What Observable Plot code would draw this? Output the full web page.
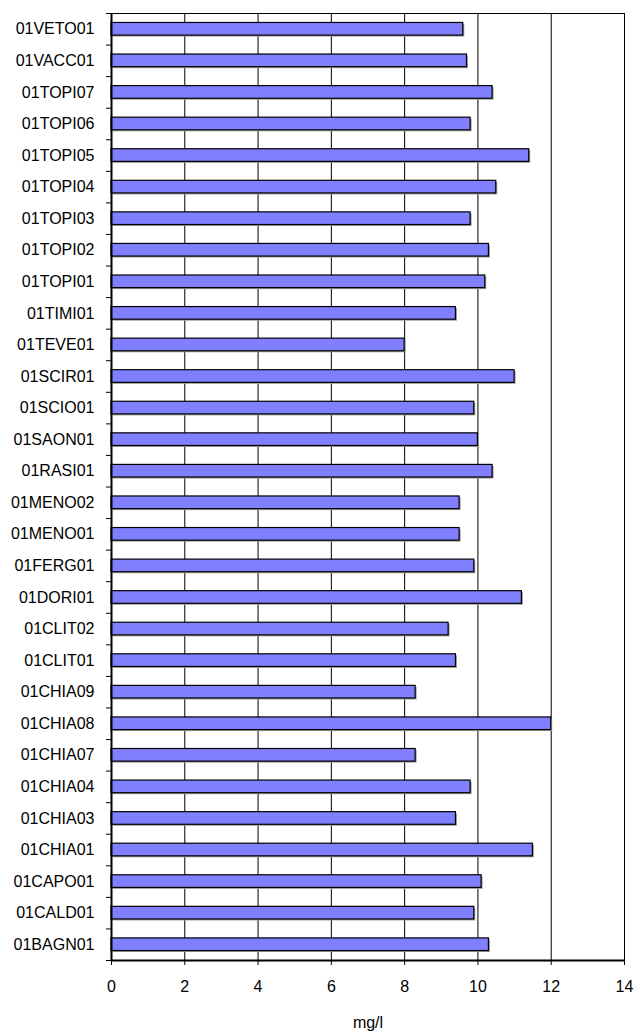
<!DOCTYPE html>
<html>
<head>
<meta charset="utf-8">
<script src="https://cdn.jsdelivr.net/npm/d3@7"></script>
<script src="https://cdn.jsdelivr.net/npm/@observablehq/plot@0.6"></script>
<style>
  html, body { margin: 0; padding: 0; background: #fff; }
  #chart svg { display: block; }
</style>
</head>
<body>
<div id="chart"></div>
<script>
// Stations, listed top to bottom as drawn
const stations = [
  "01VETO01","01VACC01","01TOPI07","01TOPI06","01TOPI05","01TOPI04","01TOPI03",
  "01TOPI02","01TOPI01","01TIMI01","01TEVE01","01SCIR01","01SCIO01","01SAON01",
  "01RASI01","01MENO02","01MENO01","01FERG01","01DORI01","01CLIT02","01CLIT01",
  "01CHIA09","01CHIA08","01CHIA07","01CHIA04","01CHIA03","01CHIA01","01CAPO01",
  "01CALD01","01BAGN01"
];
// Values in mg/l, same order
const values = [
  9.6, 9.7, 10.4, 9.8, 11.4, 10.5, 9.8,
  10.3, 10.2, 9.4, 8.0, 11.0, 9.9, 10.0,
  10.4, 9.5, 9.5, 9.9, 11.2, 9.2, 9.4,
  8.3, 12.0, 8.3, 9.8, 9.4, 11.5, 10.1,
  9.9, 10.3
];
const xTicks = [0, 2, 4, 6, 8, 10, 12, 14];
const xLabel = "mg/l";

const data = stations.map((s, i) => ({station: s, index: i, value: values[i]}));
const n = stations.length;

const chart = Plot.plot({
  width: 636,
  height: 1032,
  marginLeft: 111,
  marginRight: 12,
  marginTop: 13,
  marginBottom: 72,
  style: {fontFamily: "'Liberation Sans', Arial, sans-serif", fontSize: "16px", color: "#000", background: "#fff"},
  x: {domain: [0, 14]},
  y: {domain: [0, n], reverse: true},
  marks: [
    // vertical gridlines
    Plot.ruleX(xTicks.slice(1), {stroke: "#000", strokeWidth: 1, strokeOpacity: 1}),
    // top border
    Plot.ruleY([0], {stroke: "#000", strokeWidth: 1}),
    // bar shadows
    Plot.rect(data, {x1: 0, x2: "value", y1: d => d.index + 0.3, y2: d => d.index + 0.7, fill: "#9a9a9a", dx: 1.5, dy: 1.5}),
    // bars
    Plot.rect(data, {x1: 0, x2: "value", y1: d => d.index + 0.3, y2: d => d.index + 0.7, fill: "#8080ff", stroke: "#000", strokeWidth: 1.2}),
    // axes lines
    Plot.ruleX([0], {stroke: "#000", strokeWidth: 2}),
    Plot.ruleY([n], {stroke: "#000", strokeWidth: 2}),
    // y tick marks at band boundaries
    Plot.axisY(d3.range(0, n + 1), {tickSize: 5, tickFormat: () => "", stroke: "#000"}),
    // y labels at band centres
    Plot.axisY(d3.range(0, n).map(i => i + 0.5), {
      tickSize: 0, tickPadding: 17, tickFormat: d => stations[Math.floor(d)],
      fontSize: 16, fill: "#000", label: null
    }),
    // x axis
    Plot.axisX(xTicks, {tickSize: 5, tickPadding: 15, fontSize: 16, fill: "#000", stroke: "#000", label: null}),
    Plot.text([xLabel], {frameAnchor: "bottom", dy: 67, fontSize: 16, fill: "#000", text: d => d})
  ]
});
document.getElementById("chart").appendChild(chart);
</script>
</body>
</html>
